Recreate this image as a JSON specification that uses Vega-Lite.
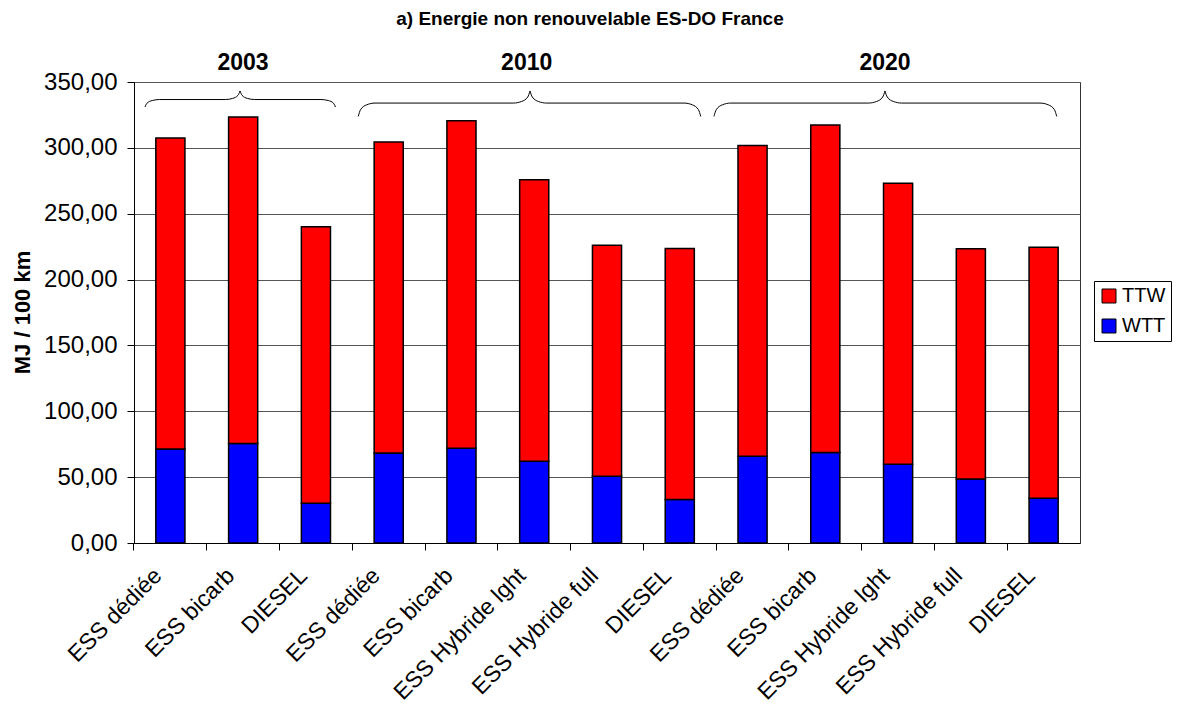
{
  "$schema": "https://vega.github.io/schema/vega-lite/v6.json",
  "width": 946,
  "height": 461,
  "autosize": {"type": "none"},
  "padding": {"left": 134, "top": 82, "right": 100, "bottom": 162},
  "background": "white",
  "config": {
    "font": "Liberation Sans",
    "view": {"stroke": "#333333", "strokeWidth": 1}
  },
  "title": {
    "text": "a) Energie non renouvelable ES-DO France",
    "fontSize": 19,
    "fontWeight": "bold",
    "color": "black",
    "anchor": "middle",
    "dx": -17,
    "offset": 23
  },
  "datasets": {
    "energy": [
      {"key": "2003|ESS dédiée", "year": "2003", "part": "WTT", "value": 71.4},
      {"key": "2003|ESS dédiée", "year": "2003", "part": "TTW", "value": 236.0},
      {"key": "2003|ESS bicarb", "year": "2003", "part": "WTT", "value": 75.5},
      {"key": "2003|ESS bicarb", "year": "2003", "part": "TTW", "value": 247.9},
      {"key": "2003|DIESEL", "year": "2003", "part": "WTT", "value": 30.1},
      {"key": "2003|DIESEL", "year": "2003", "part": "TTW", "value": 210.0},
      {"key": "2010|ESS dédiée", "year": "2010", "part": "WTT", "value": 68.4},
      {"key": "2010|ESS dédiée", "year": "2010", "part": "TTW", "value": 236.1},
      {"key": "2010|ESS bicarb", "year": "2010", "part": "WTT", "value": 71.9},
      {"key": "2010|ESS bicarb", "year": "2010", "part": "TTW", "value": 248.7},
      {"key": "2010|ESS Hybride lght", "year": "2010", "part": "WTT", "value": 62.0},
      {"key": "2010|ESS Hybride lght", "year": "2010", "part": "TTW", "value": 213.8},
      {"key": "2010|ESS Hybride full", "year": "2010", "part": "WTT", "value": 50.6},
      {"key": "2010|ESS Hybride full", "year": "2010", "part": "TTW", "value": 175.5},
      {"key": "2010|DIESEL", "year": "2010", "part": "WTT", "value": 33.1},
      {"key": "2010|DIESEL", "year": "2010", "part": "TTW", "value": 190.5},
      {"key": "2020|ESS dédiée", "year": "2020", "part": "WTT", "value": 65.8},
      {"key": "2020|ESS dédiée", "year": "2020", "part": "TTW", "value": 235.9},
      {"key": "2020|ESS bicarb", "year": "2020", "part": "WTT", "value": 68.8},
      {"key": "2020|ESS bicarb", "year": "2020", "part": "TTW", "value": 248.5},
      {"key": "2020|ESS Hybride lght", "year": "2020", "part": "WTT", "value": 59.7},
      {"key": "2020|ESS Hybride lght", "year": "2020", "part": "TTW", "value": 213.5},
      {"key": "2020|ESS Hybride full", "year": "2020", "part": "WTT", "value": 48.6},
      {"key": "2020|ESS Hybride full", "year": "2020", "part": "TTW", "value": 174.8},
      {"key": "2020|DIESEL", "year": "2020", "part": "WTT", "value": 33.9},
      {"key": "2020|DIESEL", "year": "2020", "part": "TTW", "value": 190.7}
    ],
    "braces": [
      {"seg": "2003L", "bx": 0.151, "by": 331.0},
      {"seg": "2003L", "bx": 0.178, "by": 333.85},
      {"seg": "2003L", "bx": 0.251, "by": 335.94},
      {"seg": "2003L", "bx": 0.351, "by": 336.7},
      {"seg": "2003L", "bx": 1.257, "by": 336.7},
      {"seg": "2003L", "bx": 1.357, "by": 337.57},
      {"seg": "2003L", "bx": 1.43, "by": 339.95},
      {"seg": "2003L", "bx": 1.457, "by": 343.2},
      {"seg": "2003R", "bx": 1.457, "by": 343.2},
      {"seg": "2003R", "bx": 1.484, "by": 339.95},
      {"seg": "2003R", "bx": 1.557, "by": 337.57},
      {"seg": "2003R", "bx": 1.657, "by": 336.7},
      {"seg": "2003R", "bx": 2.569, "by": 336.7},
      {"seg": "2003R", "bx": 2.669, "by": 335.94},
      {"seg": "2003R", "bx": 2.742, "by": 333.85},
      {"seg": "2003R", "bx": 2.769, "by": 331.0},
      {"seg": "2010L", "bx": 3.082, "by": 323.9},
      {"seg": "2010L", "bx": 3.113, "by": 328.95},
      {"seg": "2010L", "bx": 3.197, "by": 332.65},
      {"seg": "2010L", "bx": 3.312, "by": 334.0},
      {"seg": "2010L", "bx": 5.212, "by": 334.0},
      {"seg": "2010L", "bx": 5.327, "by": 335.23},
      {"seg": "2010L", "bx": 5.411, "by": 338.6},
      {"seg": "2010L", "bx": 5.442, "by": 343.2},
      {"seg": "2010R", "bx": 5.442, "by": 343.2},
      {"seg": "2010R", "bx": 5.473, "by": 338.6},
      {"seg": "2010R", "bx": 5.557, "by": 335.23},
      {"seg": "2010R", "bx": 5.672, "by": 334.0},
      {"seg": "2010R", "bx": 7.558, "by": 334.0},
      {"seg": "2010R", "bx": 7.673, "by": 332.65},
      {"seg": "2010R", "bx": 7.757, "by": 328.95},
      {"seg": "2010R", "bx": 7.788, "by": 323.9},
      {"seg": "2020L", "bx": 7.97, "by": 323.9},
      {"seg": "2020L", "bx": 8.001, "by": 328.95},
      {"seg": "2020L", "bx": 8.085, "by": 332.65},
      {"seg": "2020L", "bx": 8.2, "by": 334.0},
      {"seg": "2020L", "bx": 10.09, "by": 334.0},
      {"seg": "2020L", "bx": 10.205, "by": 335.23},
      {"seg": "2020L", "bx": 10.289, "by": 338.6},
      {"seg": "2020L", "bx": 10.32, "by": 343.2},
      {"seg": "2020R", "bx": 10.32, "by": 343.2},
      {"seg": "2020R", "bx": 10.351, "by": 338.6},
      {"seg": "2020R", "bx": 10.435, "by": 335.23},
      {"seg": "2020R", "bx": 10.55, "by": 334.0},
      {"seg": "2020R", "bx": 12.45, "by": 334.0},
      {"seg": "2020R", "bx": 12.565, "by": 332.65},
      {"seg": "2020R", "bx": 12.649, "by": 328.95},
      {"seg": "2020R", "bx": 12.68, "by": 323.9}
    ],
    "years": [
      {"year": "2003", "bx": 1.498, "by": 359.4},
      {"year": "2010", "bx": 5.396, "by": 359.4},
      {"year": "2020", "bx": 10.32, "by": 359.4}
    ]
  },
  "layer": [
    {
      "data": {"name": "energy"},
      "mark": {"type": "bar", "stroke": "black", "strokeWidth": 1.5},
      "encoding": {
        "x": {
          "field": "key",
          "type": "nominal",
          "sort": null,
          "scale": {"paddingInner": 0.6, "paddingOuter": 0.3},
          "axis": {
            "title": null,
            "labelExpr": "split(datum.value, '|')[1]",
            "labelAngle": -45,
            "labelFontSize": 23,
            "labelColor": "black",
            "labelPadding": 14,
            "labelOffset": -20,
            "labelLimit": 400,
            "tickSize": 7,
            "tickColor": "black",
            "domainColor": "black",
            "bandPosition": -0.75
          }
        },
        "y": {
          "field": "value",
          "type": "quantitative",
          "stack": "zero",
          "scale": {"domain": [0, 350], "nice": false},
          "axis": {
            "title": "MJ / 100 km",
            "values": [0, 50, 100, 150, 200, 250, 300, 350],
            "labelExpr": "replace(format(datum.value, '.2f'), '.', ',')",
            "labelFontSize": 24,
            "labelColor": "black",
            "labelPadding": 10,
            "tickSize": 7,
            "tickColor": "black",
            "domainColor": "black",
            "grid": true,
            "gridColor": "#555555",
            "gridOpacity": 1,
            "titleFontSize": 22,
            "titleFontWeight": "bold",
            "titleColor": "black",
            "titleAngle": -90,
            "titleAlign": "center",
            "titleBaseline": "middle",
            "titleX": -112,
            "titleY": 230
          }
        },
        "color": {
          "field": "part",
          "type": "nominal",
          "scale": {"domain": ["TTW", "WTT"], "range": ["#ff0000", "#0000ff"]},
          "legend": {
            "title": null,
            "orient": "none",
            "legendX": 960,
            "legendY": 199,
            "strokeColor": "black",
            "fillColor": "white",
            "padding": 5,
            "symbolType": "square",
            "symbolSize": 196,
            "symbolStrokeColor": "black",
            "symbolStrokeWidth": 1,
            "symbolOpacity": 1,
            "labelFontSize": 20,
            "labelColor": "black",
            "labelOffset": 3,
            "rowPadding": 10
          }
        },
        "order": {"field": "part", "sort": "descending"}
      }
    },
    {
      "data": {"name": "braces"},
      "mark": {"type": "line", "color": "black", "strokeWidth": 1, "interpolate": "monotone"},
      "encoding": {
        "x": {"field": "bx", "type": "quantitative", "scale": {"domain": [0, 13], "nice": false, "zero": false}, "axis": null},
        "y": {"field": "by", "type": "quantitative", "scale": {"domain": [0, 350], "nice": false}},
        "detail": {"field": "seg"}
      }
    },
    {
      "data": {"name": "years"},
      "mark": {"type": "text", "fontSize": 23, "fontWeight": "bold", "color": "black", "align": "center", "baseline": "alphabetic"},
      "encoding": {
        "x": {"field": "bx", "type": "quantitative", "scale": {"domain": [0, 13], "nice": false, "zero": false}, "axis": null},
        "y": {"field": "by", "type": "quantitative", "scale": {"domain": [0, 350], "nice": false}},
        "text": {"field": "year"}
      }
    }
  ],
  "resolve": {"scale": {"x": "independent"}}
}
